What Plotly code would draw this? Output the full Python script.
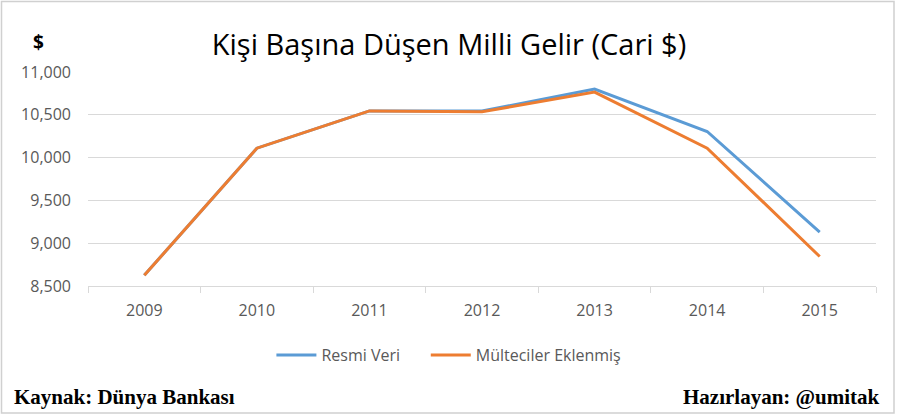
import plotly.graph_objects as go

years = ["2009", "2010", "2011", "2012", "2013", "2014", "2015"]
resmi_veri = [8625, 10110, 10545, 10545, 10800, 10305, 9130]
multeciler = [8625, 10110, 10545, 10535, 10765, 10110, 8845]
y_ticks = [8500, 9000, 9500, 10000, 10500, 11000]

W, H = 898, 416
L, R, T, B = 88, 22, 72, 130
pw, ph = W - L - R, H - T - B

def px(x):
    return (x - L) / pw

def py(y):
    return (H - B - y) / ph

fig = go.Figure()
fig.add_trace(go.Scatter(x=years, y=resmi_veri, mode="lines",
                         name="Resmi Veri" + "&nbsp;" * 5,
                         line=dict(color="#5B9BD5", width=3)))
fig.add_trace(go.Scatter(x=years, y=multeciler, mode="lines", name="Mülteciler Eklenmiş",
                         line=dict(color="#ED7D31", width=3)))

fig.update_layout(
    width=W, height=H,
    margin=dict(l=L, r=R, t=T, b=B),
    paper_bgcolor="white", plot_bgcolor="white",
    font=dict(family="Open Sans, Liberation Sans, sans-serif", color="#595959", size=15),
    showlegend=True,
    legend=dict(orientation="h", x=0.458, xanchor="center", y=py(355), yanchor="middle",
                font=dict(size=16, color="#595959"), itemwidth=40),
    title=dict(text="Kişi Başına Düşen Milli Gelir (Cari $)", x=0.5, xanchor="center",
               y=1 - 45 / H, yanchor="middle",
               font=dict(size=29, color="black", family="Open Sans, Liberation Sans, sans-serif")),
)
fig.update_xaxes(type="category", range=[-0.5, 6.5], showgrid=False,
                 showline=True, linecolor="#D9D9D9", linewidth=1,
                 ticks="outside", tickson="boundaries", ticklen=6, tickcolor="#D9D9D9",
                 ticklabelstandoff=10,
                 tickfont=dict(size=16, color="#595959"))
fig.update_yaxes(range=[8500, 11000], tickvals=y_ticks, tickformat=",d",
                 showgrid=True, gridcolor="#D9D9D9", gridwidth=1, zeroline=False,
                 showline=False, ticks="", ticklabelstandoff=16,
                 tickfont=dict(size=16, color="#595959"))

fig.add_annotation(text="<b>$</b>", xref="paper", yref="paper", x=px(38), y=py(42),
                   xanchor="center", yanchor="middle", showarrow=False,
                   font=dict(size=19, color="black", family="Open Sans, Liberation Sans, sans-serif"))
fig.add_annotation(text="<b>Kaynak: Dünya Bankası</b>", xref="paper", yref="paper",
                   x=px(12), y=py(397), xanchor="left", yanchor="middle", showarrow=False,
                   font=dict(size=21, color="black", family="Liberation Serif, serif"))
fig.add_annotation(text="<b>Hazırlayan: @umitak</b>", xref="paper", yref="paper",
                   x=px(882), y=py(397), xanchor="right", yanchor="middle", showarrow=False,
                   font=dict(size=21, color="black", family="Liberation Serif, serif"))
fig.add_shape(type="rect", xref="paper", yref="paper",
              x0=px(1.5), x1=px(894), y0=py(1.5), y1=py(413),
              line=dict(color="#D0D0D0", width=1.5), fillcolor="rgba(0,0,0,0)", layer="below")

fig.write_html("out.html", config={"displayModeBar": False},
               post_script="document.body.style.margin='0';document.body.style.overflow='hidden';")
